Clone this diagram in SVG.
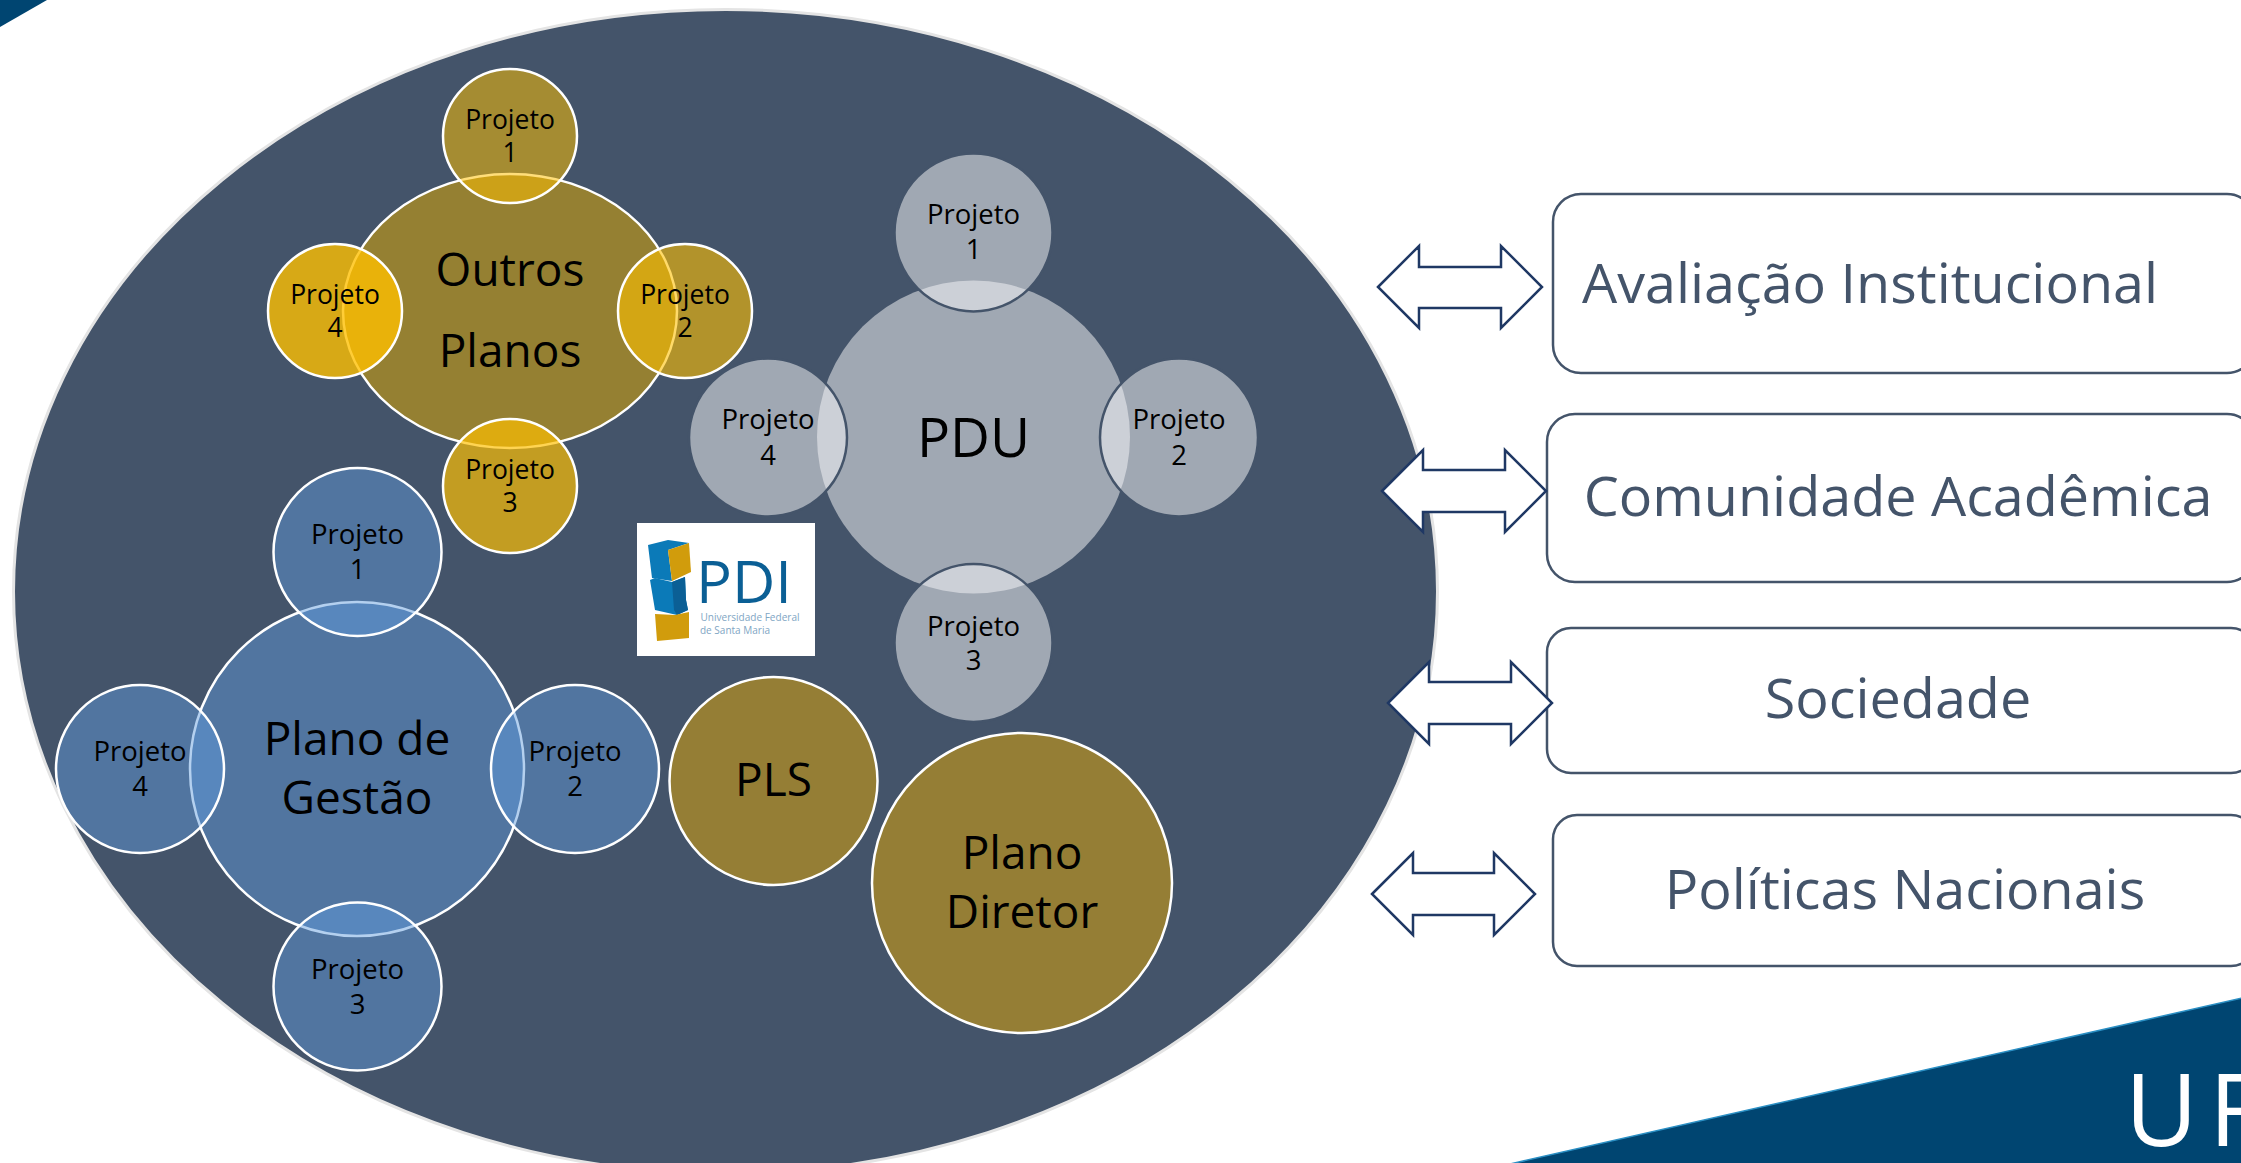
<svg xmlns="http://www.w3.org/2000/svg" width="2241" height="1163" viewBox="0 0 2241 1163">
<style>
text{font-family:"Open Sans","Noto Sans","Liberation Sans",sans-serif;text-anchor:middle;fill:#000}
.p{font-size:26.5px}
.pb{font-size:27.5px}
.big{font-size:46px}
.box{fill:#fff;stroke:#44546a;stroke-width:2.5}
.bt{fill:#44546a;font-size:55.7px}
.arr{fill:#fff;stroke:#1f3864;stroke-width:2.5}
.gm{fill:#e0a800;fill-opacity:.52;stroke:#fff;stroke-width:2.5}
.gs{fill:#ffc000;stroke:#fff;stroke-width:2.5}
.wm{fill:#f5f6f8;fill-opacity:.52}
.ws{fill:#f5f6f8;fill-opacity:.52;stroke:#44546a;stroke-width:2.5}
.bm,.bs{fill:#609cdd;fill-opacity:.47;stroke:#fff;stroke-width:2.5}
.solid{fill:#957e35;stroke:#fff;stroke-width:2.5}
.band{fill:#004571;stroke:#2a8fc4;stroke-width:1.5}
.uf{font-family:"Open Sans",Lato,sans-serif;font-weight:400;font-size:100px;fill:#fff;text-anchor:start}
</style>
<polygon points="0,27 47,0 0,0" fill="#004571"/>
<polygon class="band" points="1510,1164 2242,998 2242,1164"/>
<text class="uf" x="2125" y="1146">U</text>
<text class="uf" x="2209" y="1146">F</text>
<ellipse id="contorno" cx="725.5" cy="591.5" rx="712" ry="582" fill="#44546a" stroke="#e4e4e4" stroke-width="3"/>

<g id="outros-planos">
<ellipse class="gm" cx="510" cy="311" rx="167" ry="137"/>
<text class="big" x="510" y="286">Outros</text>
<text class="big" x="510" y="367">Planos</text>
</g>
<g id="op-projeto-1"><circle class="gs" style="fill-opacity:.52" cx="510" cy="136" r="67"/><text class="p" x="510" y="129">Projeto</text><text class="p" x="510" y="162">1</text></g>
<g id="op-projeto-2"><circle class="gs" style="fill-opacity:.59" cx="685" cy="311" r="67"/><text class="p" x="685" y="304">Projeto</text><text class="p" x="685" y="337">2</text></g>
<g id="op-projeto-3"><circle class="gs" style="fill-opacity:.68" cx="510" cy="486" r="67"/><text class="p" x="510" y="479">Projeto</text><text class="p" x="510" y="512">3</text></g>
<g id="op-projeto-4"><circle class="gs" style="fill-opacity:.79" cx="335" cy="311" r="67"/><text class="p" x="335" y="304">Projeto</text><text class="p" x="335" y="337">4</text></g>

<g id="pdu">
<circle class="wm" cx="973.5" cy="437" r="156.5"/>
<text x="973.5" y="457" style="font-size:55px">PDU</text>
</g>
<g id="pdu-projeto-1"><circle class="ws" cx="973.5" cy="232.5" r="79"/><text class="pb" x="973.5" y="224">Projeto</text><text class="pb" x="973.5" y="259">1</text></g>
<g id="pdu-projeto-2"><circle class="ws" cx="1179" cy="437.5" r="79"/><text class="pb" x="1179" y="429">Projeto</text><text class="pb" x="1179" y="465">2</text></g>
<g id="pdu-projeto-3"><circle class="ws" cx="973.5" cy="643" r="79"/><text class="pb" x="973.5" y="636">Projeto</text><text class="pb" x="973.5" y="670">3</text></g>
<g id="pdu-projeto-4"><circle class="ws" cx="768" cy="437.5" r="79"/><text class="pb" x="768" y="429">Projeto</text><text class="pb" x="768" y="465">4</text></g>

<g id="plano-de-gestao">
<circle class="bm" cx="357" cy="769" r="167"/>
<text class="big" x="357" y="755">Plano de</text>
<text class="big" x="357" y="814">Gestão</text>
</g>
<g id="pg-projeto-1"><circle class="bs" cx="357.5" cy="552" r="84"/><text class="pb" x="357.5" y="544">Projeto</text><text class="pb" x="357.5" y="579">1</text></g>
<g id="pg-projeto-2"><circle class="bs" cx="575" cy="769" r="84"/><text class="pb" x="575" y="761">Projeto</text><text class="pb" x="575" y="796">2</text></g>
<g id="pg-projeto-3"><circle class="bs" cx="357.5" cy="986.5" r="84"/><text class="pb" x="357.5" y="979">Projeto</text><text class="pb" x="357.5" y="1014">3</text></g>
<g id="pg-projeto-4"><circle class="bs" cx="140" cy="769" r="84"/><text class="pb" x="140" y="761">Projeto</text><text class="pb" x="140" y="796">4</text></g>

<g id="pls"><circle class="solid" cx="773.5" cy="781" r="104"/><text class="big" x="773.5" y="796">PLS</text></g>
<g id="plano-diretor"><circle class="solid" cx="1022" cy="883" r="150"/><text class="big" x="1022" y="869">Plano</text><text class="big" x="1022" y="928">Diretor</text></g>

<g id="logo-pdi">
<rect x="637" y="523" width="178" height="133" fill="#fff"/>
<polygon fill="#0b7ab8" points="648,545 668,540 689,543 668,550 672,581 652,578"/>
<polygon fill="#d19c0c" points="668,550 689,543 691,572 672,581"/>
<polygon fill="#0b7ab8" points="650,580 655,578 672,582 685,577 686,600 688,610 677,615 655,610"/>
<polygon fill="#0b5f95" points="672,582 685,577 686,600 688,610 677,615 674,610"/>
<polygon fill="#d19c0c" points="655,614 675,615 689,612 689,638 657,641"/>
<text x="744" y="603" textLength="96" lengthAdjust="spacingAndGlyphs" style="font-size:58px;fill:#0b5f95">PDI</text>
<text x="750" y="621" textLength="99" lengthAdjust="spacingAndGlyphs" style="font-size:11px;fill:#7fa6c4">Universidade Federal</text>
<text x="735" y="634" textLength="70" lengthAdjust="spacingAndGlyphs" style="font-size:11px;fill:#7fa6c4">de Santa Maria</text>
</g>

<g id="avaliacao"><rect class="box" x="1553" y="194" width="702" height="179" rx="28"/><text class="bt" x="1870" y="303">Avaliação Institucional</text></g>
<g id="comunidade"><rect class="box" x="1547" y="414" width="708" height="168" rx="28"/><text class="bt" x="1898" y="516">Comunidade Acadêmica</text></g>
<g id="sociedade"><rect class="box" x="1547" y="628" width="708" height="145" rx="24"/><text class="bt" x="1898" y="718">Sociedade</text></g>
<g id="politicas"><rect class="box" x="1553" y="815" width="702" height="151" rx="24"/><text class="bt" x="1905" y="909">Políticas Nacionais</text></g>

<g id="conectores">
<polygon class="arr" points="1378,287 1419,246 1419,267 1501,267 1501,246 1542,287 1501,328 1501,308 1419,308 1419,328"/>
<polygon class="arr" points="1382,491 1423,450 1423,470 1505,470 1505,450 1546,491 1505,532 1505,512 1423,512 1423,532"/>
<polygon class="arr" points="1388,703 1429,662 1429,682 1511,682 1511,662 1552,703 1511,744 1511,724 1429,724 1429,744"/>
<polygon class="arr" points="1372,894 1413,853 1413,873 1494,873 1494,853 1535,894 1494,935 1494,915 1413,915 1413,935"/>
</g>
</svg>
